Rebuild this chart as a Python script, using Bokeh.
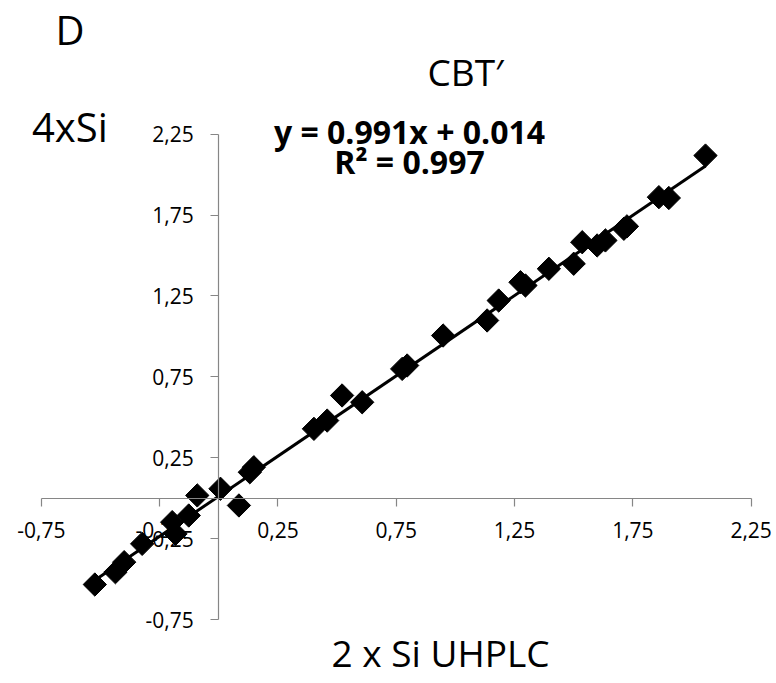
import math
from bokeh.plotting import figure
from bokeh.models import FixedTicker, Label
from bokeh.embed import file_html
from bokeh.resources import INLINE

# Data
x_uhplc = [-0.524, -0.437, -0.400, -0.324, -0.197, -0.183, -0.127, -0.091, 0.007, 0.085,
           0.131, 0.148, 0.402, 0.458, 0.521, 0.606, 0.775, 0.796, 0.948, 1.134,
           1.183, 1.275, 1.296, 1.395, 1.500, 1.536, 1.599, 1.634, 1.712, 1.725,
           1.860, 1.902, 2.057]
y_cbt = [-0.531, -0.455, -0.393, -0.280, -0.146, -0.218, -0.105, 0.019, 0.060, -0.043,
         0.162, 0.193, 0.430, 0.481, 0.636, 0.594, 0.800, 0.821, 1.006, 1.099,
         1.222, 1.335, 1.315, 1.418, 1.449, 1.582, 1.562, 1.593, 1.665, 1.680,
         1.860, 1.855, 2.117]
slope = 0.991
intercept = 0.014
tick_values = [-0.75, -0.25, 0.25, 0.75, 1.25, 1.75, 2.25]
tick_labels = ["-0,75", "-0,25", "0,25", "0,75", "1,25", "1,75", "2,25"]

FONT = "Open Sans"

p = figure(width=772, height=680, output_backend="svg", toolbar_location=None,
           x_range=(-0.9227, 2.3402), y_range=(-1.1235, 3.0741),
           min_border=0)
p.outline_line_color = None
p.xgrid.visible = False
p.ygrid.visible = False
p.background_fill_color = "white"

overrides = {v: t for v, t in zip(tick_values, tick_labels)}
for ax, standoff in ((p.xaxis, 16), (p.yaxis, 17)):
    ax.fixed_location = 0
    ax.bounds = (-0.75, 2.25)
    ax.ticker = FixedTicker(ticks=tick_values)
    ax.major_label_overrides = overrides
    ax.axis_line_color = "#868686"
    ax.axis_line_width = 1.2
    ax.major_tick_line_color = "#868686"
    ax.major_tick_line_width = 1.2
    ax.major_tick_out = 8
    ax.major_tick_in = 0
    ax.minor_tick_line_color = None
    ax.major_label_text_font = FONT
    ax.major_label_text_font_size = "21px"
    ax.major_label_text_color = "#000000"
    ax.major_label_standoff = standoff

# trendline
x0, x1 = min(x_uhplc), max(x_uhplc)
p.line([x0, x1], [slope * x0 + intercept, slope * x1 + intercept], line_color="black", line_width=3)

p.scatter(x_uhplc, y_cbt, marker="square", size=16.5, angle=math.pi / 4,
          fill_color="black", line_color="black")

def lab(x, y, text, size, align="center", bold=False):
    p.add_layout(Label(x=x, y=y, text=text, text_font=FONT, text_font_size=size,
                       text_align=align, text_baseline="middle", text_color="black",
                       text_font_style="bold" if bold else "normal"))

lab(-0.690, 2.892, "D", "40px", align="left")
lab(-0.790, 2.296, "4xSi", "40px", align="left")
lab(1.043, 2.636, "CBT\u2032", "37px")
lab(0.937, -0.950, "2 x Si UHPLC", "37px")
lab(0.806, 2.265, "y = 0.991x + 0.014", "32px", bold=True)
lab(0.806, 2.080, "R\u00b2 = 0.997", "32px", bold=True)

open("out.html", "w").write(file_html(p, INLINE))
